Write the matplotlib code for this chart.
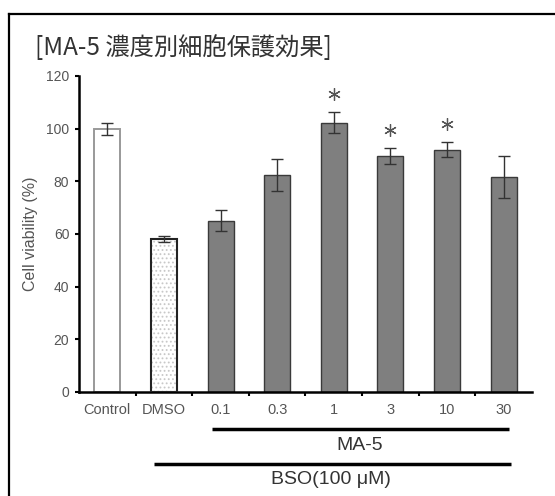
import matplotlib
matplotlib.use("Agg")
import matplotlib.pyplot as plt
from matplotlib.lines import Line2D

categories = ["Control", "DMSO", "0.1", "0.3", "1", "3", "10", "30"]
tick_labels = ["Control", "DMSO", "0.1", "0.3", "1", "3", "10", "30"]
values = [100, 58, 65, 82.5, 102.2, 89.5, 92, 81.6]
errors = [2.3, 1.2, 4.0, 6.0, 4.0, 3.0, 2.8, 8.0]
significant = [False, False, False, False, True, True, True, False]
title = "[MA-5 濃度別細胞保護効果]"
ylabel = "Cell viability (%)"
group1_label = "MA-5"
group2_label = "BSO(100 μM)"

plt.rcParams['font.family'] = ['Liberation Sans', 'DejaVu Sans']
plt.rcParams['hatch.linewidth'] = 0.8

fig = plt.figure(figsize=(5.55, 4.96), dpi=100)
ax = fig.add_axes([0.1423, 0.2097, 0.8163, 0.6371])

x = list(range(len(categories)))
w = 0.46
# Control
ax.bar(x[0], values[0], w, color="white", edgecolor="#999999", linewidth=1.4, zorder=2)
# DMSO hatched
ax.bar(x[1], values[1], w, color="white", edgecolor="#c8c8c8", hatch="....", linewidth=0, zorder=2)
ax.bar(x[1], values[1], w, color="none", edgecolor="#222222", linewidth=1.5, zorder=3)
# MA-5 bars
ax.bar(x[2:], values[2:], w, color="#7f7f7f", edgecolor="#3a3a3a", linewidth=1.0, zorder=2)
ax.errorbar(x, values, yerr=errors, fmt="none", ecolor="#333333", elinewidth=1.0,
            capsize=4, capthick=1.0, zorder=4)

for xi, v, e, s in zip(x, values, errors, significant):
    if s:
        ax.plot(xi, v + e + 7, marker=(6, 2, 0), markersize=9, color="#555555",
                markeredgewidth=0.9, zorder=5)

ax.set_xlim(-0.5, 7.5)
ax.set_ylim(0, 120)
ax.set_yticks(range(0, 121, 20))
ax.set_xticks(x)
ax.set_xticklabels(tick_labels, fontsize=10.5, color="#555555")
ax.tick_params(axis='x', length=0, pad=8)
ax.set_xticks([i + 0.5 for i in range(7)], minor=True)
ax.tick_params(axis='x', which='minor', length=3, width=1.5, direction='out', color='black')
ax.tick_params(axis='y', length=3, width=1.5, direction='out', labelsize=10,
               labelcolor="#555555", pad=4)
for sp in ["top", "right"]:
    ax.spines[sp].set_visible(False)
for sp in ["left", "bottom"]:
    ax.spines[sp].set_linewidth(1.8)
ax.set_ylabel(ylabel, fontsize=11.5, color="#555555", labelpad=6)

# group lines under axis
ax.plot([1.85, 7.1], [-14.0, -14.0], color="black", linewidth=2.5, clip_on=False,
        solid_capstyle='butt')
ax.text(4.46, -20.2, group1_label, ha="center", va="center", fontsize=14, color="#333333")
ax.plot([0.82, 7.12], [-27.3, -27.3], color="black", linewidth=2.5, clip_on=False,
        solid_capstyle='butt')
ax.text(3.95, -33.4, group2_label, ha="center", va="center", fontsize=14, color="#333333")

fig.text(0.063, 0.903, title, fontsize=17.5, color="#333333", ha="left", va="center",
         family=['Noto Sans CJK JP', 'DejaVu Sans'])

# outer frame
fig.add_artist(Line2D([0.016, 1.0], [0.972, 0.972], color="black", linewidth=1.6,
                      transform=fig.transFigure))
fig.add_artist(Line2D([0.016, 0.016], [0.0, 0.972], color="black", linewidth=1.6,
                      transform=fig.transFigure))

fig.savefig("out.png", dpi=100)
